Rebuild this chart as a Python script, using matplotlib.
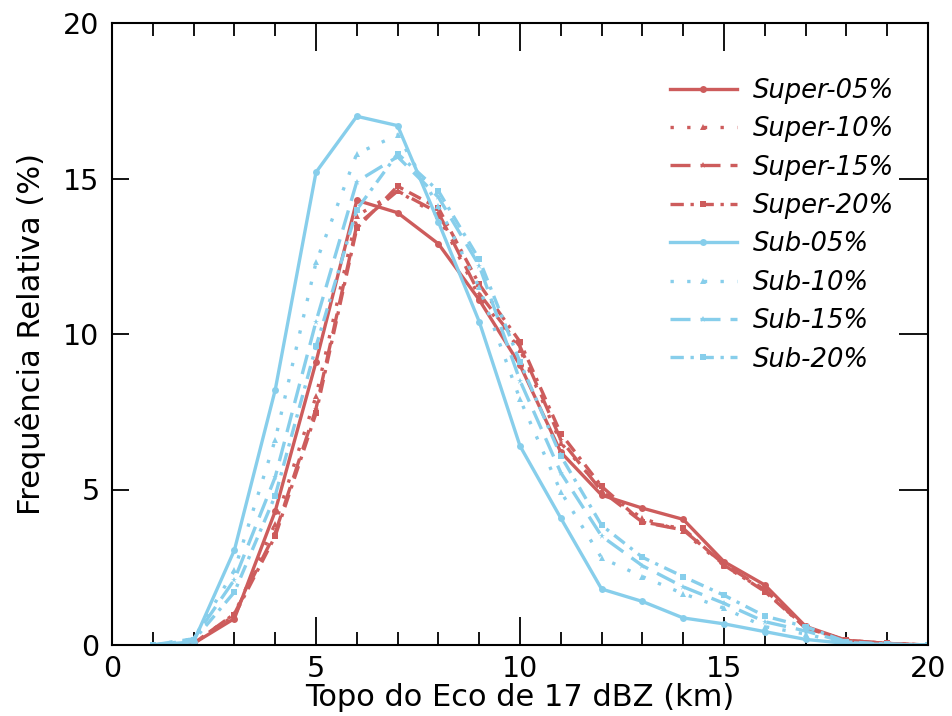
import matplotlib
matplotlib.use("Agg")
import matplotlib.pyplot as plt
import numpy as np

x = list(range(1, 21))

super_05 = [0, 0.05, 0.85, 4.3, 9.1, 14.3, 13.9, 12.9, 11.1, 9.0, 6.2, 4.82, 4.4, 4.04, 2.68, 1.93, 0.6, 0.15, 0.05, 0]
super_10 = [0, 0.05, 1.0, 3.9, 8.0, 13.8, 14.6, 13.8, 11.2, 9.5, 6.5, 5.0, 4.07, 3.65, 2.55, 1.75, 0.55, 0.15, 0.05, 0]
super_15 = [0, 0.05, 1.0, 3.6, 7.6, 13.5, 14.6, 13.9, 11.3, 9.6, 6.6, 4.95, 3.95, 3.7, 2.6, 1.78, 0.55, 0.15, 0.05, 0]
super_20 = [0, 0.05, 0.95, 3.5, 7.45, 13.4, 14.75, 14.05, 11.6, 9.75, 6.8, 5.1, 3.95, 3.75, 2.57, 1.72, 0.55, 0.15, 0.05, 0]
sub_05 = [0, 0.1, 3.05, 8.2, 15.2, 17.0, 16.7, 13.6, 10.4, 6.4, 4.08, 1.8, 1.4, 0.87, 0.68, 0.43, 0.18, 0.05, 0.02, 0]
sub_10 = [0, 0.2, 2.4, 6.6, 12.3, 15.8, 16.4, 14.1, 11.5, 7.9, 4.93, 2.8, 2.2, 1.65, 1.18, 0.59, 0.35, 0.06, 0.02, 0]
sub_15 = [0, 0.2, 2.1, 5.4, 10.4, 14.9, 15.7, 14.4, 12.2, 8.5, 5.54, 3.5, 2.55, 1.87, 1.34, 0.75, 0.45, 0.08, 0.02, 0]
sub_20 = [0, 0.15, 1.7, 4.8, 9.6, 14.0, 15.8, 14.6, 12.4, 9.1, 6.08, 3.85, 2.82, 2.2, 1.6, 0.93, 0.59, 0.1, 0.03, 0]

labels = ["Super-05%", "Super-10%", "Super-15%", "Super-20%",
          "Sub-05%", "Sub-10%", "Sub-15%", "Sub-20%"]
series = [super_05, super_10, super_15, super_20, sub_05, sub_10, sub_15, sub_20]

red = "#CD5C5C"
blue = "#87CEEB"
colors = [red] * 4 + [blue] * 4
markers = ["o", "^", "*", "s"] * 2
dashes = [None, (1, 4), (6, 3), (4, 2, 1, 2)] * 2

fig = plt.figure(figsize=(9.52, 7.16), dpi=100)
ax = fig.add_axes([112 / 952, 71 / 716, 816 / 952, 622 / 716])

for vals, lab, c, m, d in zip(series, labels, colors, markers, dashes):
    line, = ax.plot(x, vals, color=c, lw=2.4, marker=m, markersize=5,
                    markeredgewidth=0, label=lab)
    if d is not None:
        line.set_dashes(d)

ax.set_xlim(0, 20)
ax.set_ylim(0, 20)
ax.set_xticks([0, 5, 10, 15, 20])
ax.set_xticks(range(0, 21), minor=True)
ax.set_yticks([0, 5, 10, 15, 20])

for s in ax.spines.values():
    s.set_linewidth(1.5)

ax.tick_params(axis="x", which="major", direction="in", length=20, width=1.3,
               top=True, bottom=True, labelsize=20.5, pad=7)
ax.tick_params(axis="x", which="minor", direction="in", length=9.5, width=1.3,
               top=True, bottom=True)
ax.tick_params(axis="y", which="major", direction="in", length=12, width=1.3,
               left=True, right=False, labelsize=20.5, pad=9)

ax2 = ax.twinx()
ax2.set_ylim(0, 20)
ax2.set_yticks([0, 5, 10, 15, 20])
ax2.tick_params(axis="y", direction="in", length=21, width=1.3, labelright=False)
for s in ax2.spines.values():
    s.set_visible(False)

ax.set_xlabel("Topo do Eco de 17 dBZ (km)", fontsize=22, labelpad=0)
ax.set_ylabel("Frequência Relativa (%)", fontsize=22, labelpad=12)

leg = ax.legend(loc="upper right", bbox_to_anchor=(0.958, 0.912), frameon=False,
                prop={"style": "italic", "size": 18.6}, handlelength=2.6,
                handletextpad=0.6, labelspacing=0.48, borderaxespad=0,
                borderpad=0)

fig.savefig("out.png", dpi=100)
